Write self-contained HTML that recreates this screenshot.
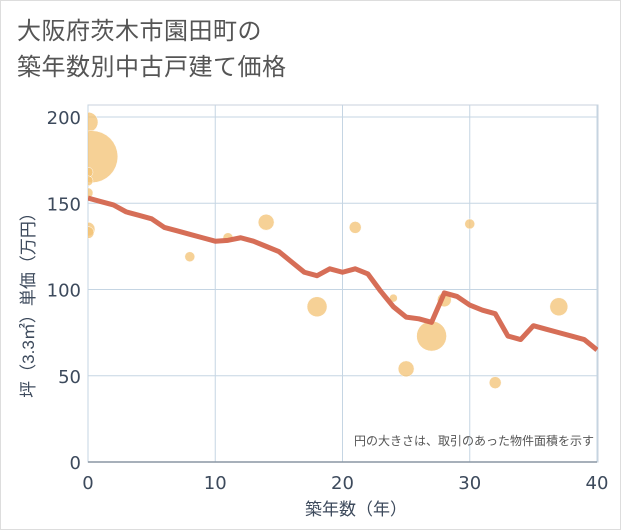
<!DOCTYPE html>
<html><head><meta charset="utf-8"><style>
body{margin:0;background:#fff;}
.wrap{position:relative;width:619px;height:528px;border:1px solid #ddd;font-family:"Liberation Sans","Noto Sans CJK JP",sans-serif;}
.title{position:absolute;left:16px;top:13px;font-size:24px;line-height:36px;color:#555;letter-spacing:0.5px;}
svg{position:absolute;left:0;top:0;}
</style></head><body>
<div class="wrap">
<div class="title">大阪府茨木市園田町の<br>築年数別中古戸建て価格</div>
<svg id="chart" width="621" height="530"><defs><clipPath id="pc"><rect x="87" y="104" width="510" height="357"/></clipPath></defs></svg>
</div>
<script>
const lineYears=[0,1,2,3,4,5,6,7,8,9,10,11,12,13,14,15,16,17,18,19,20,21,22,23,24,25,26,27,28,29,30,31,32,33,34,35,36,37,38,39,40];
const lineValues=[153,151,149,145,143,141,136,134,132,130,128,128.5,130,128,125,122,116,110,108,112,110,112,109,99,90,84,83,81,98,96,91,88,86,73,71,79,77,75,73,71,65];
const bubbleYears=[0,0.3,0,0,0,0,0,8,11,14,18,21,24,25,27,28,30,32,37];
const bubbleValues=[197,177,168,163,156,135,133,119,130,139,90,136,95,54,73,94,138,46,90];
const bubbleSizes=[10,26,5,5,5,7,6,5,5,8,10,6,4,8,15,7,5,6,9];
const xTicks=[0,10,20,30,40];
const yTicks=[0,50,100,150,200];
const NS="http://www.w3.org/2000/svg";
const svg=document.getElementById('chart');
const X0=87,X1=596,Y0=461,Y1=116;
const xs=v=>X0+(X1-X0)*v/40;
const ys=v=>Y0-(Y0-Y1)*v/200;
function mk(t,a,p){const e=document.createElementNS(NS,t);for(const k in a)e.setAttribute(k,a[k]);(p||svg).appendChild(e);return e;}
const frame=mk('rect',{x:X0,y:104,width:X1-X0+1,height:Y0-104,fill:'none',stroke:'#c8d2dc'});


xTicks.forEach(t=>{
 const g=mk('line',{x1:xs(t),x2:xs(t),y1:104,y2:Y0,stroke:'#c5d5e3'});
 
 
 const l=mk('text',{x:xs(t),y:488,'text-anchor':'middle','font-size':18,'font-family':'DejaVu Sans, sans-serif',fill:'#3d4a5c'});
 l.textContent=t;
 
 
});
yTicks.forEach(t=>{
 const g=mk('line',{x1:X0,x2:X1,y1:ys(t),y2:ys(t),stroke:'#c5d5e3'});
 
 
 const l=mk('text',{x:80,y:ys(t)+7,'text-anchor':'end','font-size':18,'font-family':'DejaVu Sans, sans-serif',fill:'#3d4a5c'});
 l.textContent=t;
 
 
});
const ax=mk('line',{x1:X0,x2:X1,y1:Y0,y2:Y0,stroke:'#8a96a3','stroke-width':1.5});


const bg=mk('g',{'clip-path':'url(#pc)'});


bubbleYears.forEach((v,i)=>{
 const c=mk('circle',{cx:xs(v),cy:ys(bubbleValues[i]),r:bubbleSizes[i],fill:'#f3c173','fill-opacity':0.75,stroke:'#fff','stroke-width':0.5},bg);
 
 
});
const pts=lineYears.map((v,i)=>xs(v)+','+ys(lineValues[i])).join(' ');
const pl=mk('polyline',{points:pts,fill:'none',stroke:'#d4664e','stroke-width':5,'stroke-linejoin':'round','stroke-opacity':0.95,'clip-path':'url(#pc)'});


const note=mk('text',{x:593,y:444,'text-anchor':'end','font-size':12,fill:'#555'});
note.textContent='円の大きさは、取引のあった物件面積を示す';


const xt=mk('text',{x:355,y:514,'text-anchor':'middle','font-size':17,fill:'#3d4a5c'});
xt.textContent='築年数（年）';


const yt=mk('text',{x:0,y:0,'text-anchor':'middle','font-size':17,fill:'#3d4a5c',transform:'translate(33,300) rotate(-90)'});
yt.textContent='坪（3.3㎡）単価（万円）';


</script>
</body></html>
